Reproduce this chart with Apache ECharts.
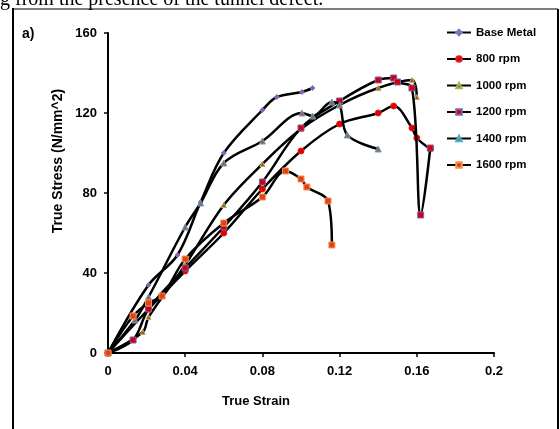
<!DOCTYPE html>
<html>
<head>
<meta charset="utf-8">
<script src="https://cdn.jsdelivr.net/npm/echarts@6/dist/echarts.min.js"></script>
<style>
  html, body { margin: 0; padding: 0; background: #fff; }
  #chart { width: 560px; height: 429px; }
</style>
</head>
<body>
<div id="chart"></div>
<script>
// strain / stress, one pair of arrays per curve
var seriesNames = ['Base Metal', '800 rpm', '1000 rpm', '1200 rpm', '1400 rpm', '1600 rpm'];

var baseStrain = [0, 0.021, 0.036, 0.048, 0.060, 0.080, 0.0875, 0.1005, 0.106];
var baseStress = [0, 34, 49, 75.5, 100, 121.5, 128, 130.5, 132.5];

var rpm800Strain = [0, 0.021, 0.040, 0.060, 0.080, 0.100, 0.120, 0.140, 0.148, 0.1575, 0.160, 0.167];
var rpm800Stress = [0, 22, 41, 60, 82, 101, 114.5, 120, 123.5, 112.5, 107.5, 102];

var rpm1000Strain = [0, 0.018, 0.021, 0.040, 0.060, 0.080, 0.100, 0.120, 0.140, 0.1575, 0.160];
var rpm1000Stress = [0, 10.5, 18, 44, 74, 94.5, 112, 124, 132.5, 136.5, 128];

var rpm1200Strain = [0, 0.013, 0.021, 0.040, 0.060, 0.080, 0.100, 0.120, 0.140, 0.148, 0.150, 0.1575, 0.162, 0.167];
var rpm1200Stress = [0, 6.5, 22, 42.5, 63, 85.5, 112.5, 126, 136.5, 137.5, 135.5, 132.5, 69, 102.5];

var rpm1400Strain = [0, 0.014, 0.021, 0.040, 0.048, 0.060, 0.080, 0.1005, 0.106, 0.116, 0.120, 0.124, 0.140];
var rpm1400Stress = [0, 16.5, 28, 63, 75, 95, 106, 120, 118.5, 125.5, 124, 109, 102];

var rpm1600Strain = [0, 0.013, 0.021, 0.028, 0.040, 0.060, 0.080, 0.092, 0.100, 0.103, 0.114, 0.116];
var rpm1600Stress = [0, 18.5, 25, 28.5, 47, 65, 78, 91, 87, 83, 76, 54];

var xTicks = [0, 0.04, 0.08, 0.12, 0.16, 0.2];
var yTicks = [0, 40, 80, 120, 160];

function pairs(xs, ys) {
  var out = [];
  for (var i = 0; i < xs.length; i++) out.push([xs[i], ys[i]]);
  return out;
}

var markers = [
  { symbol: 'diamond', size: 5, fill: '#b04fa0', border: '#6a7fd0' },
  { symbol: 'circle', size: 6, fill: '#e00000', border: '#e02020' },
  { symbol: 'triangle', size: 5, fill: '#d04020', border: '#9bbb59' },
  { symbol: 'rect', size: 6, fill: '#d00010', border: '#8064a2' },
  { symbol: 'triangle', size: 6, fill: '#c0504d', border: '#4bacc6' },
  { symbol: 'rect', size: 6, fill: '#e04020', border: '#f79646' }
];
var allData = [
  pairs(baseStrain, baseStress),
  pairs(rpm800Strain, rpm800Stress),
  pairs(rpm1000Strain, rpm1000Stress),
  pairs(rpm1200Strain, rpm1200Stress),
  pairs(rpm1400Strain, rpm1400Stress),
  pairs(rpm1600Strain, rpm1600Stress)
];

var series = [];
for (var i = 0; i < seriesNames.length; i++) {
  var m = markers[i];
  series.push({
    name: seriesNames[i],
    type: 'line',
    data: allData[i],
    smooth: 0.35,
    symbol: m.symbol,
    symbolSize: m.size,
    showAllSymbol: true,
    lineStyle: { color: '#000', width: 2.5 },
    itemStyle: { color: m.fill, borderColor: m.border, borderWidth: 1 },
    emphasis: { disabled: true },
    z: 2 + i
  });
}

var chart = echarts.init(document.getElementById('chart'), null, { renderer: 'canvas' });
chart.setOption({
  animation: false,
  backgroundColor: '#fff',
  textStyle: { fontFamily: 'Liberation Sans, Arial, sans-serif' },
  grid: { left: 108, right: 66, top: 33, bottom: 76 },
  legend: {
    data: seriesNames,
    orient: 'vertical',
    left: 446,
    top: 26.5,
    padding: 0,
    itemWidth: 24,
    itemHeight: 7,
    itemGap: 14.5,
    textStyle: { fontSize: 11.5, fontWeight: 'bold', color: '#000' }
  },
  xAxis: {
    type: 'value',
    min: xTicks[0],
    max: xTicks[xTicks.length - 1],
    interval: 0.04,
    splitLine: { show: false },
    axisLine: { lineStyle: { color: '#000', width: 2 } },
    axisTick: { length: 4, lineStyle: { color: '#000', width: 1.5 } },
    axisLabel: { color: '#000', fontSize: 13, fontWeight: 'bold', margin: 12 }
  },
  yAxis: {
    type: 'value',
    min: yTicks[0],
    max: yTicks[yTicks.length - 1],
    interval: 40,
    splitLine: { show: false },
    axisLine: { show: true, lineStyle: { color: '#000', width: 2 } },
    axisTick: { show: true, length: 4, lineStyle: { color: '#000', width: 1.5 } },
    axisLabel: { color: '#000', fontSize: 13, fontWeight: 'bold', margin: 11 }
  },
  graphic: [
    { type: 'line', shape: { x1: 13, y1: 8, x2: 13, y2: 429 }, style: { stroke: '#000', lineWidth: 2 } },
    { type: 'line', shape: { x1: 13, y1: 9, x2: 558, y2: 9 }, style: { stroke: '#000', lineWidth: 1 } },
    { type: 'line', shape: { x1: 558, y1: 9, x2: 558, y2: 429 }, style: { stroke: '#000', lineWidth: 2 } },
    { type: 'text', x: -10, y: 10, style: { text: 'ng from the presence of the tunnel defect.', font: '20px "Liberation Serif", "Times New Roman", serif', fill: '#000', verticalAlign: 'bottom' } },
    { type: 'text', x: 22, y: 34, style: { text: 'a)', font: 'bold 14px "Liberation Sans", Arial, sans-serif', fill: '#000', verticalAlign: 'middle' } },
    { type: 'text', x: 256, y: 401, style: { text: 'True Strain', font: 'bold 13px "Liberation Sans", Arial, sans-serif', fill: '#000', align: 'center', verticalAlign: 'middle' } },
    { type: 'text', x: 58, y: 161, rotation: Math.PI / 2, style: { text: 'True Stress (N/mm^2)', font: 'bold 14px "Liberation Sans", Arial, sans-serif', fill: '#000', align: 'center', verticalAlign: 'middle' } }
  ],
  series: series
});
</script>
</body>
</html>
